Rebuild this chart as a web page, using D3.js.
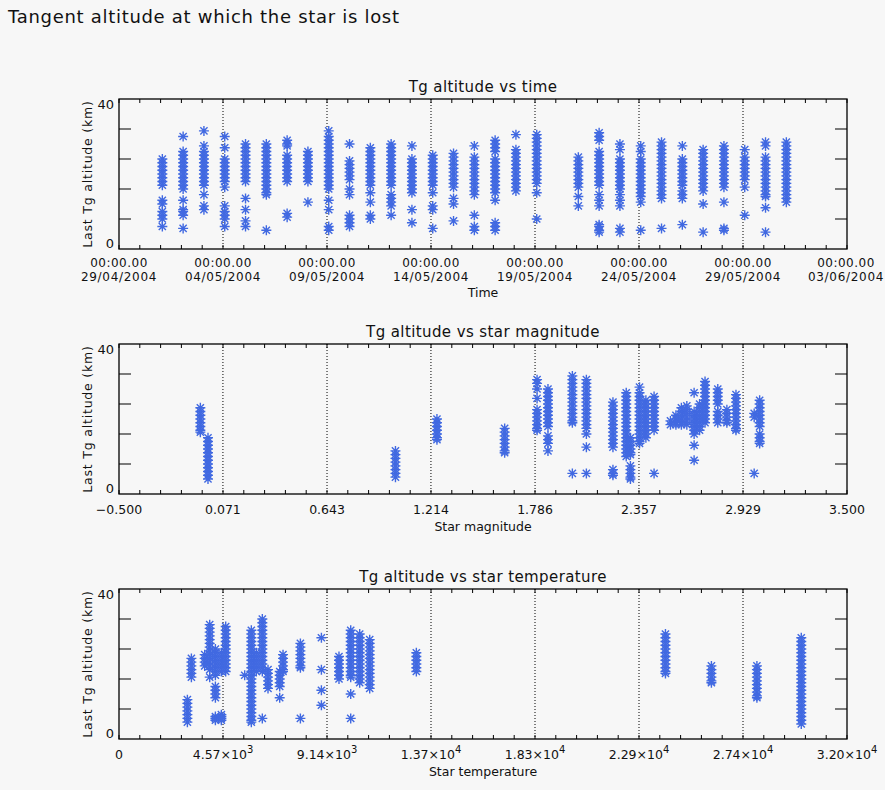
<!DOCTYPE html>
<html>
<head>
<meta charset="utf-8">
<script src="https://cdn.jsdelivr.net/npm/d3@7"></script>
<style>
  body { margin: 0; background: #f7f7f7; }
  text { font-family: "DejaVu Sans", sans-serif; fill: #111; }
</style>
</head>
<body>
<svg id="chart" width="885" height="790"></svg>
<script>
// ---- data ----
const timeTickLabels = ["29/04/2004", "04/05/2004", "09/05/2004", "14/05/2004",
  "19/05/2004", "24/05/2004", "29/05/2004", "03/06/2004"];
const magTickLabels = ["-0.500", "0.071", "0.643", "1.214", "1.786", "2.357", "2.929", "3.500"];
const tempTickLabels = ["0", "4.57×10^3", "9.14×10^3", "1.37×10^4", "1.83×10^4",
  "2.29×10^4", "2.74×10^4", "3.20×10^4"];
const altTicks = [0, 8, 16, 24, 32, 40];

// one cluster of lost-star altitudes per pass day
const timeDates = ["2004-05-01", "2004-05-02", "2004-05-03", "2004-05-04", "2004-05-05",
  "2004-05-06", "2004-05-07", "2004-05-08", "2004-05-09", "2004-05-10", "2004-05-11",
  "2004-05-12", "2004-05-13", "2004-05-14", "2004-05-15", "2004-05-16", "2004-05-17",
  "2004-05-18", "2004-05-19", "2004-05-21", "2004-05-22", "2004-05-23", "2004-05-24",
  "2004-05-25", "2004-05-26", "2004-05-27", "2004-05-28", "2004-05-29", "2004-05-30",
  "2004-05-31"];
const timeAlts = [
  [24, 23, 22, 21, 20, 19, 18, 17, 13, 12, 10, 9, 8, 6],
  [30, 26, 25, 24, 23, 22, 21, 20, 19, 18, 17, 16, 13, 10.5, 10, 9, 5.5],
  [31.5, 27.5, 26, 25, 24, 23, 22, 21, 20, 19, 18, 17, 14.5, 11.5, 10.5],
  [30, 27, 24, 23, 22, 21, 20, 19, 18, 16.5, 11.5, 10, 9, 8, 6],
  [28, 27, 26, 25, 24, 23, 22, 21, 20, 19, 18, 13.5, 10.5, 7.5, 6],
  [28, 27, 26, 25, 24, 23, 22, 21, 20, 19, 18, 17, 16, 15, 14.5, 5],
  [29, 28, 27.5, 25, 24, 23, 22, 21, 20, 19, 18, 9.5, 8.5],
  [26, 25, 24, 23, 22, 21, 20, 19, 18, 12.5],
  [31.5, 30, 29, 28, 27, 26, 25, 24, 23, 22, 21, 20, 19, 18, 17, 16, 13, 10.5, 6, 5],
  [28, 23.5, 22.5, 21.5, 20.5, 19.5, 18.5, 16, 14.5, 9, 8, 7, 6],
  [27, 26, 25, 24, 23, 22, 21, 20, 19, 18, 17, 15, 12.5, 9, 8],
  [28, 27, 26, 25, 24, 23, 22, 21, 20, 19, 18, 17, 14.5, 13.5, 12.5, 11.5, 9],
  [27.5, 24, 23, 22, 21, 20, 19, 18, 17, 16, 15, 10.5, 7],
  [25, 24, 23, 22, 21, 20, 19, 18, 17, 15, 11.5, 10.5, 5.5],
  [25.5, 24.5, 23.5, 22.5, 21.5, 20.5, 19.5, 18.5, 17.5, 16.5, 13.5, 12, 7.5],
  [27.5, 24.5, 23.5, 22.5, 21.5, 20.5, 19.5, 18.5, 17.5, 16.5, 15.5, 14.5, 9, 6, 5],
  [29, 28, 27, 26, 24, 23, 22, 21, 20, 19, 18, 17, 16, 15, 13, 7, 6, 5],
  [30.5, 26.5, 25.5, 24.5, 23.5, 22.5, 21.5, 20.5, 19.5, 18.5, 17.5, 16.5, 15.5],
  [30.5, 29.5, 28.5, 27.5, 26.5, 25.5, 24.5, 23.5, 22.5, 21.5, 20.5, 19.5, 18.5, 17.5, 15, 8],
  [24.5, 23.5, 22.5, 21.5, 20.5, 19.5, 18.5, 17.5, 16.5, 14, 11.5],
  [31, 30, 29, 26, 25, 24, 23, 22, 21, 20, 19, 18, 17, 14.5, 13, 11.5, 6.5, 6, 5, 4.5],
  [28, 26.5, 24, 23, 22, 21, 20, 19, 18, 17, 16, 14.5, 13, 11.5, 5.5, 4.5],
  [27.5, 26, 24, 23, 22, 21, 20, 19, 18, 17, 16, 15, 14, 12.5, 5],
  [28.5, 27.5, 26.5, 25.5, 24.5, 23.5, 22.5, 21.5, 20.5, 19.5, 18.5, 17.5, 16.5, 15.5, 14.5, 13.5, 5.5],
  [27.5, 24, 23, 22, 21, 20, 19, 18, 17, 15.5, 14.5, 13.5, 6.5],
  [26.5, 25.5, 24.5, 23.5, 22.5, 21.5, 20.5, 19.5, 18.5, 17.5, 16.5, 15.5, 12, 4.5],
  [27.5, 26.5, 25.5, 24.5, 23.5, 22.5, 21.5, 20.5, 19.5, 18.5, 17.5, 16.5, 12.5, 5.5, 5],
  [26.5, 24.5, 23.5, 22.5, 21.5, 20.5, 19.5, 18.5, 16.5, 9],
  [28.5, 27.5, 24.5, 23.5, 22.5, 21.5, 20.5, 19.5, 18.5, 17.5, 16.5, 15.5, 14.5, 14, 11, 4.5],
  [28.5, 27.5, 26.5, 25.5, 24.5, 23.5, 22.5, 21.5, 20.5, 19.5, 18.5, 17.5, 16.5, 15.5, 14.5, 13.5, 12.5]
];

const magValues = [-0.053, -0.011, 1.019, 1.247, 1.619, 1.797, 1.857, 1.991, 2.068, 2.214,
  2.287, 2.31, 2.36, 2.395, 2.44, 2.53, 2.56, 2.59, 2.62, 2.66, 2.69, 2.72, 2.79, 2.84,
  2.89, 2.99, 3.02];
const magAlts = [
  [23, 22, 21, 20, 19, 18, 17, 16.5],
  [15, 14, 13, 12, 11, 10, 9, 8, 7, 6, 5, 4],
  [11.5, 10.5, 9.5, 8.5, 7.5, 6.5, 5.5, 4.5],
  [20, 19, 18, 17, 16, 15, 14.5],
  [17.5, 16.5, 15.5, 14.5, 13.5, 12.5, 11.5, 11],
  [30.5, 29.5, 28, 25.5, 22.5, 21.5, 20.5, 19.5, 18.5, 17.5, 17],
  [28, 27, 26, 25, 24, 23, 22, 21, 20, 19, 18, 15.5, 14.5, 13.5, 11.5],
  [31.5, 30.5, 29.5, 28.5, 27.5, 26.5, 25.5, 24.5, 23.5, 22.5, 21.5, 20.5, 19.5, 19, 5.5],
  [30.5, 29.5, 28.5, 27.5, 26.5, 25.5, 24.5, 23.5, 22.5, 21.5, 20.5, 19.5, 18.5, 17.5, 16, 12.5, 5.5],
  [24.5, 23.5, 22.5, 21.5, 20.5, 19.5, 18.5, 17.5, 16.5, 15.5, 14.5, 13.5, 12.5, 6.5, 5.5, 5],
  [27, 26, 25, 24, 23, 22, 21, 20, 19, 18, 17, 16, 15, 14, 13, 12, 11, 10],
  [15, 14, 13, 12, 11, 10.5, 7.5, 6.5, 5.5, 4.5, 4],
  [28.5, 27, 26, 25, 24, 23, 22, 21, 20, 19, 18, 17, 16, 15, 14, 13.5],
  [25, 24, 23, 22, 21, 20, 19, 18, 17, 16, 15],
  [26, 25, 24, 23, 22, 21, 20, 19, 18, 17, 5.5],
  [19.5, 18.5],
  [21, 20, 19, 18.5],
  [23, 22, 21, 20, 19, 18.5],
  [23.5, 22.5, 21.5, 20.5, 19.5, 18.5],
  [27, 22, 21, 20, 19, 18, 17, 16, 13, 9],
  [24, 23, 22, 21, 20, 19, 18, 17],
  [30, 29, 28, 27, 26, 25, 24, 23, 22, 21, 20, 19],
  [28, 27, 26, 25, 24, 22, 21, 20, 19],
  [22.5, 21.5, 20.5, 19.5, 19],
  [26.5, 25.5, 24.5, 23.5, 22.5, 21.5, 20.5, 19.5, 18.5, 17.5, 17],
  [21.5, 20.5, 5.5],
  [25, 24, 23, 22, 21, 20, 19, 18, 16, 15, 14, 13.5]
];

const tempValues = [3006, 3182, 3767, 3987, 4237, 4500, 4690, 5525, 5817, 6037, 6300, 6550,
  7064, 7210, 7973, 8897, 9670, 10185, 10580, 11020, 13070, 24020, 26040, 28040, 29990];
const tempAlts = [
  [10.5, 9.5, 8.5, 7.5, 6.5, 5.5, 4.5],
  [21.5, 20.5, 19.5, 18.5, 17.5, 16.5],
  [22.5, 21.5, 20.5, 19.5],
  [30.5, 29.5, 28.5, 27.5, 26.5, 25.5, 24.5, 23.5, 22.5, 21.5, 20.5, 19.5, 18.5, 16.5],
  [24, 23, 22, 21, 20, 19, 18, 17, 14, 13, 12, 11, 6, 5.5, 5],
  [23, 22, 21, 20, 19, 18, 6.5, 6, 5.5, 5],
  [30, 29, 28, 27, 26, 25, 24, 23, 22, 21, 20, 19, 18],
  [17],
  [29, 28, 27, 26, 25, 24, 23, 22, 21, 20, 19, 18, 17, 16, 15, 14, 13, 12, 11, 10, 9, 8, 7, 6, 5, 4.5],
  [23, 22, 21, 20, 19, 18],
  [32, 31, 30, 29, 28, 27, 26, 25, 24, 23, 22, 21, 20, 19, 18, 5.5],
  [18.5, 17.5, 16.5, 15.5, 14.5, 13.5],
  [18, 17, 16, 15, 14, 11],
  [22.5, 21.5, 20.5, 19.5, 18.5, 18],
  [25.5, 24.5, 23.5, 22.5, 21.5, 20.5, 19.5, 19, 5.5],
  [27, 18.5, 13, 9],
  [22, 21, 20, 19, 18, 17, 16],
  [29, 28, 27, 26, 25, 24, 23, 22, 21, 20, 19, 18, 17, 16.5, 12, 5.5],
  [28, 27, 26, 25, 24, 23, 22, 21, 20, 19, 18, 17, 16, 15],
  [26.5, 25.5, 24.5, 23.5, 22.5, 21.5, 20.5, 19.5, 18.5, 17.5, 16.5, 15.5, 14.5, 13.5],
  [23, 22, 21, 20, 19, 18],
  [28, 27, 26, 25, 24, 23, 22, 21, 20, 19, 18, 17.5],
  [19.5, 18.5, 17.5, 16.5, 15.5, 15],
  [19.5, 18.5, 17.5, 16.5, 15.5, 14.5, 13.5, 12.5, 11.5, 11],
  [27, 26, 25, 24, 23, 22, 21, 20, 19, 18, 17, 16, 15, 14, 13, 12, 11, 10, 9, 8, 7, 6, 5, 4]
];

// ---- layout ----
const left = 119, right = 847, boxH = 150;
const starColor = "#4169e1";

const svg = d3.select("#chart");
svg.append("rect").attr("width", 885).attr("height", 790).attr("fill", "#f7f7f7");

svg.append("text")
    .attr("x", 8).attr("y", 23)
    .style("font-size", "18px")
    .style("letter-spacing", "0.7px")
    .text("Tangent altitude at which the star is lost");

// asterisk marker: + and x overlaid
function asterisk(r) {
    const d = r * 0.72;
    return `M${-r},0H${r}M0,${-r}V${r}M${-d},${-d}L${d},${d}M${-d},${d}L${d},${-d}`;
}

function drawPanel(opt) {
    const g = svg.append("g").attr("transform", `translate(0,${opt.top})`);
    const x = opt.x;
    const y = d3.scaleLinear().domain([0, 40]).range([boxH, 0]);

    // dotted grid lines at interior major ticks
    g.selectAll(".grid")
        .data(opt.majors.slice(1, -1))
        .join("line")
        .attr("x1", d => x(d)).attr("x2", d => x(d))
        .attr("y1", 0).attr("y2", boxH)
        .attr("stroke", "#000").attr("stroke-width", 1)
        .attr("stroke-dasharray", "1,2");

    // minor ticks on top and bottom
    g.selectAll(".minor")
        .data(opt.minors)
        .join("path")
        .attr("d", d => `M${x(d)},${boxH}v-4M${x(d)},0v4`)
        .attr("stroke", "#000").attr("stroke-width", 1);

    // y ticks on both sides
    g.selectAll(".ytick")
        .data(altTicks.slice(1, -1))
        .join("path")
        .attr("d", d => `M${left},${y(d)}h12M${right},${y(d)}h-12`)
        .attr("stroke", "#000").attr("stroke-width", 1.2);

    // frame
    g.append("rect")
        .attr("x", left).attr("y", 0)
        .attr("width", right - left).attr("height", boxH)
        .attr("fill", "none").attr("stroke", "#000").attr("stroke-width", 1.3);

    // points
    const pts = [];
    opt.xs.forEach((xv, i) => opt.alts[i].forEach(a => pts.push([xv, a])));
    g.selectAll(".star")
        .data(pts)
        .join("path")
        .attr("transform", d => `translate(${x(d[0])},${y(d[1])})`)
        .attr("d", asterisk(5))
        .attr("stroke", starColor).attr("stroke-width", 1.4)
        .attr("fill", "none");

    // y labels: only the ends
    g.append("text").attr("x", 114).attr("y", 10)
        .attr("text-anchor", "end").style("font-size", "13px").text("40");
    g.append("text").attr("x", 114).attr("y", boxH - 1)
        .attr("text-anchor", "end").style("font-size", "13px").text("0");

    g.append("text")
        .attr("transform", `translate(92,${boxH / 2}) rotate(-90)`)
        .attr("text-anchor", "middle")
        .style("font-size", "12.5px")
        .style("letter-spacing", "0.8px")
        .text("Last Tg altitude (km)");

    // title
    g.append("text")
        .attr("x", (left + right) / 2).attr("y", -7)
        .attr("text-anchor", "middle")
        .style("font-size", "15px")
        .style("letter-spacing", "0.4px")
        .text(opt.title);

    // x tick labels
    opt.drawLabels(g, x);

    g.append("text")
        .attr("x", (left + right) / 2).attr("y", opt.xTitleY)
        .attr("text-anchor", "middle")
        .style("font-size", "12.5px")
        .text(opt.xLabel);
}

// ---- panel 1: time ----
const parseTick = d3.utcParse("%d/%m/%Y");
const parseDay = d3.utcParse("%Y-%m-%d %H:%M");
const timeMajors = timeTickLabels.map(parseTick);
const timeX = d3.scaleUtc()
    .domain([timeMajors[0], timeMajors[timeMajors.length - 1]])
    .range([left, right]);

drawPanel({
    top: 99,
    title: "Tg altitude vs time",
    xLabel: "Time",
    xTitleY: boxH + 48,
    x: timeX,
    majors: timeMajors,
    minors: d3.utcDay.range(timeX.domain()[0], d3.utcDay.offset(timeX.domain()[1], 1)),
    xs: timeDates.map(d => parseDay(d + " 02:00")),
    alts: timeAlts,
    drawLabels: (g, x) => {
        // keep the last label inside the page edge
        const lx = d => Math.min(x(d), 884 - 38);
        g.selectAll(".hour")
            .data(timeMajors)
            .join("text")
            .attr("x", lx).attr("y", boxH + 18)
            .attr("text-anchor", "middle")
            .style("font-size", "12px")
            .style("letter-spacing", "0.5px")
            .text("00:00.00");
        g.selectAll(".day")
            .data(timeMajors)
            .join("text")
            .attr("x", lx).attr("y", boxH + 32)
            .attr("text-anchor", "middle")
            .style("font-size", "12px")
            .style("letter-spacing", "0.7px")
            .text((d, i) => timeTickLabels[i]);
    }
});

// ---- panel 2: magnitude ----
const magMajors = magTickLabels.map(Number);
const magX = d3.scaleLinear().domain([magMajors[0], magMajors[7]]).range([left, right]);
drawPanel({
    top: 344,
    title: "Tg altitude vs star magnitude",
    xLabel: "Star magnitude",
    xTitleY: boxH + 37,
    x: magX,
    majors: magMajors,
    minors: d3.range(36).map(i => magMajors[0] + i * (magMajors[7] - magMajors[0]) / 35),
    xs: magValues,
    alts: magAlts,
    drawLabels: (g, x) => {
        g.selectAll(".xlab")
            .data(magMajors)
            .join("text")
            .attr("x", d => x(d)).attr("y", boxH + 20)
            .attr("text-anchor", "middle")
            .style("font-size", "12.5px")
            .text((d, i) => magTickLabels[i].replace("-", "\u2212"));
    }
});

// ---- panel 3: temperature ----
const tempMajors = d3.range(8).map(i => i * 32000 / 7);
const tempX = d3.scaleLinear().domain([0, 32000]).range([left, right]);
drawPanel({
    top: 589,
    title: "Tg altitude vs star temperature",
    xLabel: "Star temperature",
    xTitleY: boxH + 37,
    x: tempX,
    majors: tempMajors,
    minors: d3.range(36).map(i => i * 32000 / 35),
    xs: tempValues,
    alts: tempAlts,
    drawLabels: (g, x) => {
        g.selectAll(".xlab")
            .data(tempMajors)
            .join("text")
            .attr("x", d => x(d)).attr("y", boxH + 20)
            .attr("text-anchor", "middle")
            .style("font-size", "12.5px")
            .each(function (d, i) {
                const parts = tempTickLabels[i].split("^");
                const t = d3.select(this);
                t.append("tspan").text(parts[0]);
                if (parts[1]) {
                    t.append("tspan").attr("dy", -6).style("font-size", "10px").text(parts[1]);
                }
            });
    }
});
</script>
</body>
</html>
